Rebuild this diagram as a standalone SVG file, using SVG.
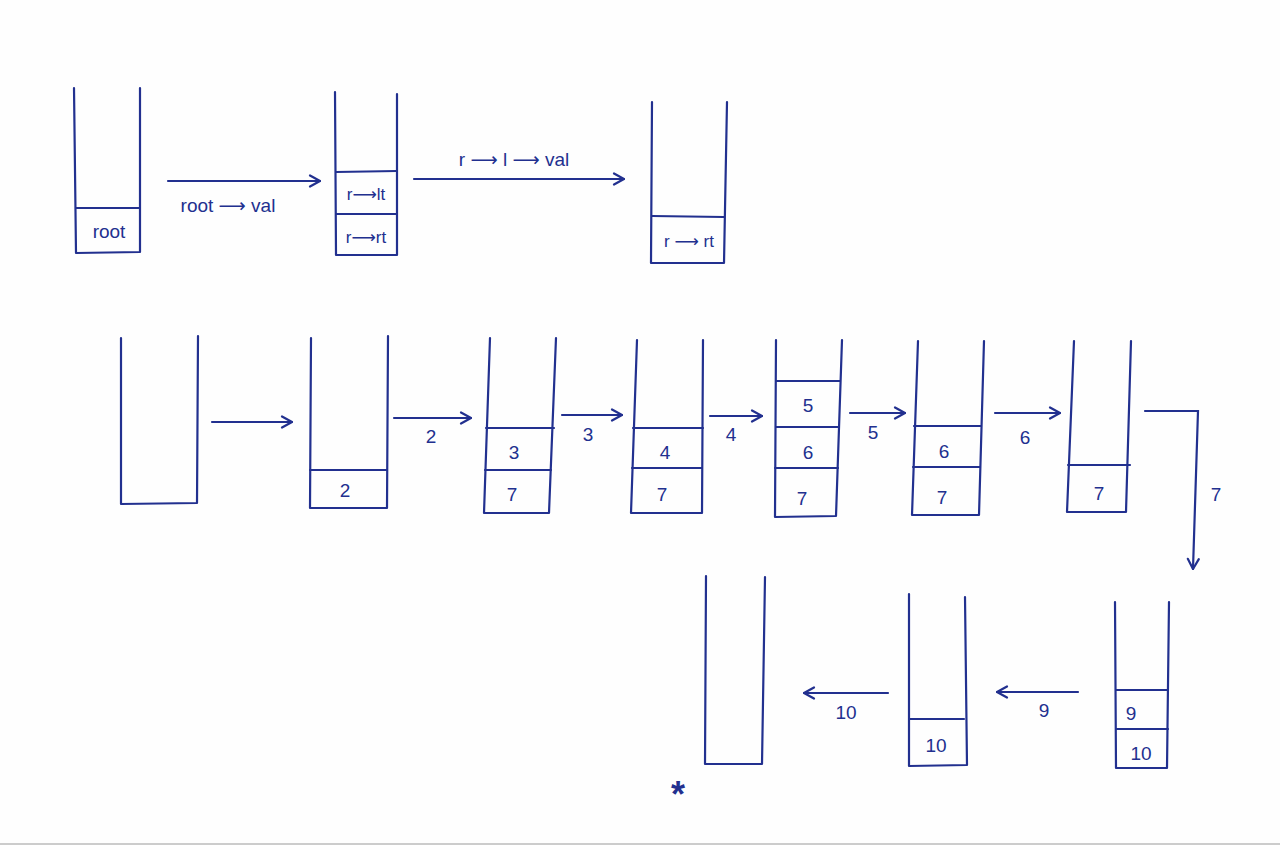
<svg xmlns="http://www.w3.org/2000/svg" width="1280" height="845" viewBox="0 0 1280 845">
<style>
.s{fill:none;stroke:#22308f;stroke-width:2.2;stroke-linecap:round;stroke-linejoin:round}
.t{font-family:"Liberation Sans",Arial,sans-serif;font-size:19px;fill:#22308f;text-anchor:middle}
.m{font-size:17px}
.a{font-family:"DejaVu Sans",sans-serif}
.c{fill:none;stroke:#22308f;stroke-width:2.2;stroke-linecap:round;marker-end:url(#ah)}
</style>
<defs>
<marker id="ah" viewBox="0 0 14 14" refX="13" refY="7" markerWidth="14" markerHeight="14" markerUnits="userSpaceOnUse" orient="auto">
<path d="M3,1.5 L13,7 L3,12.5" fill="none" stroke="#22308f" stroke-width="2.2" stroke-linecap="round" stroke-linejoin="round"/>
</marker>
</defs>
<rect x="0" y="0" width="1280" height="845" fill="#fefefe"/>
<line x1="0" y1="844" x2="1280" y2="844" stroke="#cccccc" stroke-width="2"/>

<g id="s1"><path class="s" d="M74,88 L76,253 L140,252 L140,88"/><line class="s" x1="76" y1="208" x2="140" y2="208"/><text class="t" x="109" y="238">root</text></g>
<g id="s2"><path class="s" d="M335,92 L336,255 L397,255 L397,94"/><line class="s" x1="336" y1="172" x2="397" y2="171"/><line class="s" x1="336" y1="214" x2="397" y2="214"/><text class="t m" x="366" y="200">r<tspan class="a">⟶</tspan>lt</text><text class="t m" x="366" y="243">r<tspan class="a">⟶</tspan>rt</text></g>
<g id="s3"><path class="s" d="M652,102 L651,263 L724,263 L727,102"/><line class="s" x1="652" y1="216" x2="724" y2="217"/><text class="t m" x="689" y="247">r <tspan class="a">⟶</tspan> rt</text></g>

<g id="sA"><path class="s" d="M121,338 L121,504 L197,503 L198,336"/></g>
<g id="sB"><path class="s" d="M311,338 L310,508 L387,508 L388,336"/><line class="s" x1="310" y1="470" x2="387" y2="470"/><text class="t" x="345" y="497">2</text></g>
<g id="sC"><path class="s" d="M490,338 L484,513 L549,513 L556,338"/><line class="s" x1="486" y1="428" x2="554" y2="428"/><line class="s" x1="485" y1="470" x2="551" y2="470"/><text class="t" x="514" y="459">3</text><text class="t" x="512" y="501">7</text></g>
<g id="sD"><path class="s" d="M637,340 L631,513 L702,513 L703,340"/><line class="s" x1="633" y1="428" x2="703" y2="428"/><line class="s" x1="632" y1="468" x2="702" y2="468"/><text class="t" x="665" y="459">4</text><text class="t" x="662" y="501">7</text></g>
<g id="sE"><path class="s" d="M776,340 L775,517 L836,516 L842,340"/><line class="s" x1="776" y1="381" x2="840" y2="381"/><line class="s" x1="776" y1="427" x2="839" y2="427"/><line class="s" x1="775" y1="468" x2="838" y2="468"/><text class="t" x="808" y="412">5</text><text class="t" x="808" y="459">6</text><text class="t" x="802" y="505">7</text></g>
<g id="sF"><path class="s" d="M918,341 L912,515 L979,515 L984,341"/><line class="s" x1="914" y1="426" x2="981" y2="426"/><line class="s" x1="913" y1="467" x2="980" y2="467"/><text class="t" x="944" y="458">6</text><text class="t" x="942" y="504">7</text></g>
<g id="sG"><path class="s" d="M1074,341 L1067,512 L1126,512 L1131,341"/><line class="s" x1="1068" y1="465" x2="1130" y2="465"/><text class="t" x="1099" y="500">7</text></g>

<g id="sH"><path class="s" d="M706,576 L705,764 L762,764 L765,577"/><text class="t" x="678" y="807" style="font-size:36px;font-weight:bold">*</text></g>
<g id="sI"><path class="s" d="M909,594 L909,766 L967,765 L965,597"/><line class="s" x1="909" y1="719" x2="964" y2="719"/><text class="t" x="936" y="752">10</text></g>
<g id="sJ"><path class="s" d="M1115,602 L1116,768 L1167,768 L1169,602"/><line class="s" x1="1116" y1="690" x2="1168" y2="690"/><line class="s" x1="1116" y1="729" x2="1168" y2="729"/><text class="t" x="1131" y="720">9</text><text class="t" x="1141" y="760">10</text></g>

<g id="connectors">
<line class="c" x1="168" y1="181" x2="320" y2="181"/>
<text class="t" x="228" y="212">root <tspan class="a">⟶</tspan> val</text>
<line class="c" x1="414" y1="179" x2="624" y2="179"/>
<text class="t" x="514" y="166">r <tspan class="a">⟶</tspan> l <tspan class="a">⟶</tspan> val</text>
<line class="c" x1="212" y1="422" x2="292" y2="422"/>
<line class="c" x1="394" y1="418" x2="471" y2="418"/>
<text class="t" x="431" y="443">2</text>
<line class="c" x1="562" y1="415" x2="622" y2="415"/>
<text class="t" x="588" y="441">3</text>
<line class="c" x1="710" y1="416" x2="762" y2="416"/>
<text class="t" x="731" y="441">4</text>
<line class="c" x1="850" y1="413" x2="905" y2="413"/>
<text class="t" x="873" y="439">5</text>
<line class="c" x1="995" y1="413" x2="1060" y2="413"/>
<text class="t" x="1025" y="444">6</text>
<path class="c" d="M1145,411 L1198,411 L1193,569"/>
<text class="t" x="1216" y="501">7</text>
<line class="c" x1="888" y1="693" x2="804" y2="693"/>
<text class="t" x="846" y="719">10</text>
<line class="c" x1="1078" y1="692" x2="997" y2="692"/>
<text class="t" x="1044" y="717">9</text>
</g>
</svg>
